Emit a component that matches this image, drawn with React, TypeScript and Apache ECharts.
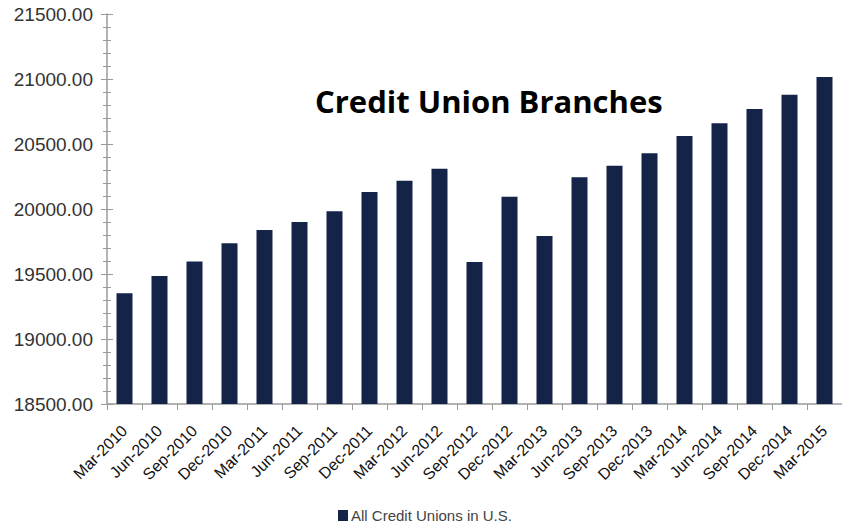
import React, { useEffect, useRef } from "react";
import * as echarts from "echarts";

const categories = [
  "Mar-2010", "Jun-2010", "Sep-2010", "Dec-2010",
  "Mar-2011", "Jun-2011", "Sep-2011", "Dec-2011",
  "Mar-2012", "Jun-2012", "Sep-2012", "Dec-2012",
  "Mar-2013", "Jun-2013", "Sep-2013", "Dec-2013",
  "Mar-2014", "Jun-2014", "Sep-2014", "Dec-2014",
  "Mar-2015",
];

const branches = [
  19351, 19485, 19597, 19736,
  19838, 19900, 19982, 20131,
  20218, 20310, 19592, 20095,
  19792, 20244, 20333, 20428,
  20562, 20659, 20769, 20879,
  21015,
];

const seriesName = "All Credit Unions in U.S.";
const titleText = "Credit Union Branches";
const yMin = 18500;
const yMax = 21500;
const yInterval = 500;

export default function App() {
  const ref = useRef<HTMLDivElement>(null);

  useEffect(() => {
    if (!ref.current) return;
    const chart = echarts.init(ref.current, null, { renderer: "svg" });
    const axisGray = "#9a9a9a";
    chart.setOption({
      animation: false,
      backgroundColor: "#ffffff",
      title: {
        text: titleText,
        left: 310,
        top: 80,
        textStyle: {
          fontFamily: "Open Sans",
          fontWeight: "bold",
          fontSize: 31,
          color: "#000000",
        },
      },
      legend: {
        data: [seriesName],
        left: 333,
        top: 503,
        icon: "rect",
        itemWidth: 10,
        itemHeight: 11,
        itemGap: 4,
        textStyle: {
          fontFamily: "Liberation Sans",
          fontSize: 15,
          color: "#444444",
          padding: [0, 0, 0, -2],
        },
      },
      grid: {
        left: 107,
        right: -4,
        top: 14,
        bottom: 124,
        containLabel: false,
      },
      xAxis: [
        {
          type: "category",
          data: categories,
          boundaryGap: true,
          axisLine: { show: true, lineStyle: { color: axisGray, width: 1.5 } },
          axisTick: { show: true, length: 6, lineStyle: { color: axisGray } },
          axisLabel: {
            rotate: 45,
            interval: 0,
            margin: 24,
            fontFamily: "Liberation Sans",
            fontSize: 16,
            color: "#111111",
          },
          splitLine: { show: false },
        },
        {
          type: "category",
          data: categories,
          position: "bottom",
          boundaryGap: true,
          axisLine: { show: false },
          axisTick: {
            show: true,
            alignWithLabel: true,
            inside: true,
            length: 5,
            lineStyle: { color: axisGray },
          },
          axisLabel: { show: false },
          splitLine: { show: false },
        },
      ],
      yAxis: [
        {
          type: "value",
          min: yMin,
          max: yMax,
          interval: yInterval,
          axisLine: { show: true, lineStyle: { color: axisGray, width: 1.5 } },
          axisTick: { show: true, length: 6, lineStyle: { color: axisGray } },
          minorTick: { show: true, splitNumber: 5, length: 4, lineStyle: { color: axisGray } },
          splitLine: { show: false },
          axisLabel: {
            margin: 14,
            fontFamily: "Liberation Sans",
            fontSize: 19,
            color: "#333333",
            formatter: (v: number) => v.toFixed(2),
          },
        },
        {
          type: "value",
          min: yMin,
          max: yMax,
          interval: yInterval,
          position: "left",
          axisLine: { show: false },
          axisTick: { show: true, inside: true, length: 6, lineStyle: { color: axisGray } },
          minorTick: { show: true, splitNumber: 5, length: 4, lineStyle: { color: axisGray } },
          splitLine: { show: false },
          axisLabel: { show: false },
        },
      ],
      series: [
        {
          name: seriesName,
          type: "bar",
          data: branches,
          barWidth: 16,
          xAxisIndex: 0,
          yAxisIndex: 0,
          itemStyle: { color: "#142348" },
        },
      ],
    });
    return () => chart.dispose();
  }, []);

  return (
    <div
      ref={ref}
      style={{ position: "fixed", left: 0, top: 0, width: 842, height: 528, background: "#fff" }}
    />
  );
}
